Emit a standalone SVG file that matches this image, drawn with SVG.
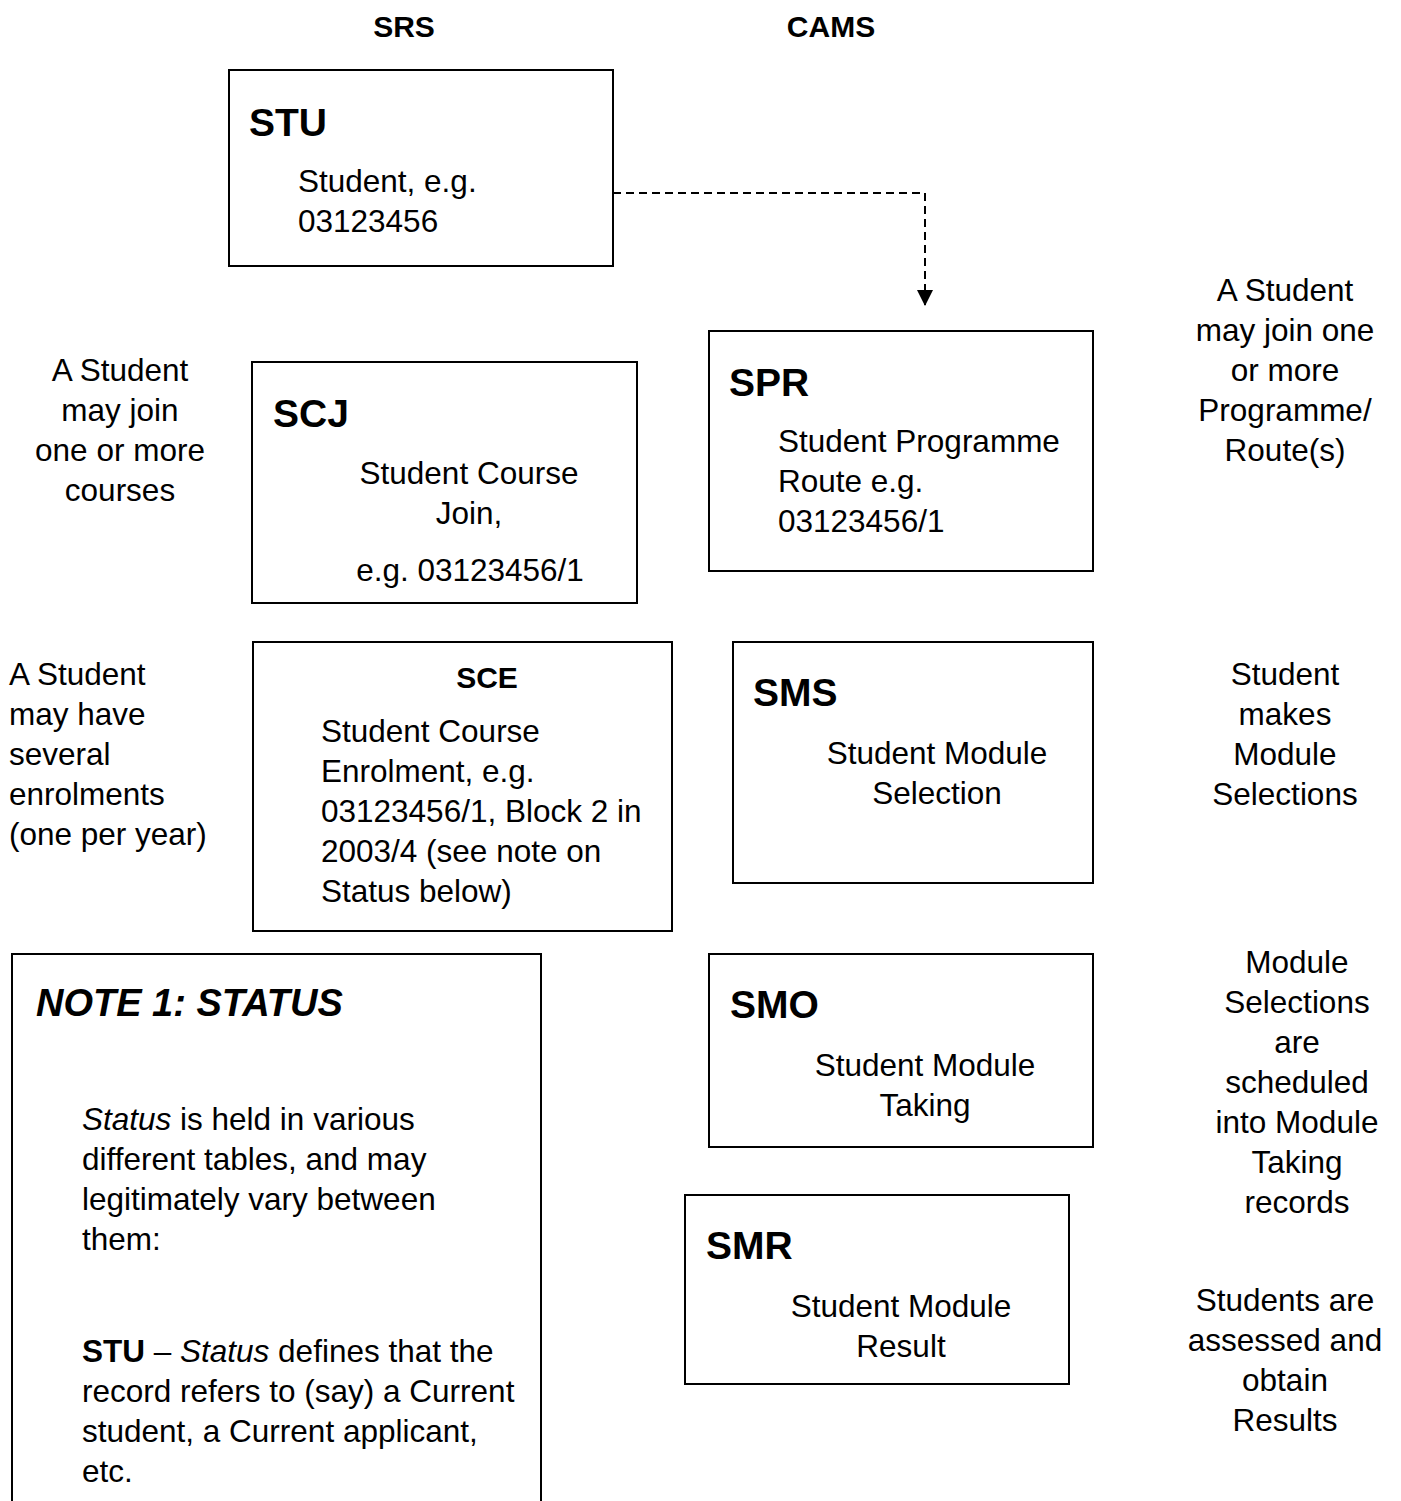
<svg xmlns="http://www.w3.org/2000/svg" width="1401" height="1501" viewBox="0 0 1401 1501">
<defs>
<style>
text{font-family:"Liberation Sans",Arial,sans-serif;fill:#000;}
.b{font-size:31.5px;}
.h{font-size:30px;font-weight:bold;}
.t{font-size:39px;font-weight:bold;}
.c{text-anchor:middle;}
.box{fill:#fff;stroke:#000;stroke-width:2;}
.conn{fill:none;stroke:#000;stroke-width:2;stroke-dasharray:8,5;}
</style>
<marker id="arr" viewBox="0 0 10 10" refX="10" refY="5" markerWidth="8" markerHeight="8" markerUnits="strokeWidth" orient="auto">
<path d="M0,0 L10,5 L0,10 Z" fill="#000"/>
</marker>
</defs>
<rect width="1401" height="1501" fill="#fff"/>
<g id="headers">
<text class="h c" x="404" y="37">SRS</text>
<text class="h c" x="831" y="37">CAMS</text>
</g>
<g id="connectors">
<path class="conn" d="M613,193 H925 V306" marker-end="url(#arr)"/>
</g>
<g id="STU">
<rect class="box" x="229" y="70" width="384" height="196"/>
<text class="t" x="249" y="136">STU</text>
<text class="b" x="298" y="192">Student, e.g.</text>
<text class="b" x="298" y="232">03123456</text>
</g>
<g id="SPR">
<rect class="box" x="709" y="331" width="384" height="240"/>
<text class="t" x="729" y="396">SPR</text>
<text class="b" x="778" y="452">Student Programme</text>
<text class="b" x="778" y="492">Route e.g.</text>
<text class="b" x="778" y="532">03123456/1</text>
</g>
<g id="SCJ">
<rect class="box" x="252" y="362" width="385" height="241"/>
<text class="t" x="273" y="427">SCJ</text>
<text class="b c" x="469" y="484">Student Course</text>
<text class="b c" x="469" y="524">Join,</text>
<text class="b c" x="470" y="581">e.g. 03123456/1</text>
</g>
<g id="SCE">
<rect class="box" x="253" y="642" width="419" height="289"/>
<text class="h c" x="487" y="688">SCE</text>
<text class="b" x="321" y="742">Student Course</text>
<text class="b" x="321" y="782">Enrolment, e.g.</text>
<text class="b" x="321" y="822">03123456/1, Block 2 in</text>
<text class="b" x="321" y="862">2003/4 (see note on</text>
<text class="b" x="321" y="902">Status below)</text>
</g>
<g id="SMS">
<rect class="box" x="733" y="642" width="360" height="241"/>
<text class="t" x="753" y="706">SMS</text>
<text class="b c" x="937" y="764">Student Module</text>
<text class="b c" x="937" y="804">Selection</text>
</g>
<g id="SMO">
<rect class="box" x="709" y="954" width="384" height="193"/>
<text class="t" x="730" y="1018">SMO</text>
<text class="b c" x="925" y="1076">Student Module</text>
<text class="b c" x="925" y="1116">Taking</text>
</g>
<g id="SMR">
<rect class="box" x="685" y="1195" width="384" height="189"/>
<text class="t" x="706" y="1259">SMR</text>
<text class="b c" x="901" y="1317">Student Module</text>
<text class="b c" x="901" y="1357">Result</text>
</g>
<g id="note">
<path class="box" d="M12,1510 V954 H541 V1510"/>
<text x="36" y="1016" style="font-size:38px;font-weight:bold;font-style:italic">NOTE 1: STATUS</text>
<text class="b" x="82" y="1130"><tspan font-style="italic">Status</tspan> is held in various</text>
<text class="b" x="82" y="1170">different tables, and may</text>
<text class="b" x="82" y="1210">legitimately vary between</text>
<text class="b" x="82" y="1250">them:</text>
<text class="b" x="82" y="1362"><tspan font-weight="bold">STU</tspan> – <tspan font-style="italic">Status</tspan> defines that the</text>
<text class="b" x="82" y="1402">record refers to (say) a Current</text>
<text class="b" x="82" y="1442">student, a Current applicant,</text>
<text class="b" x="82" y="1482">etc.</text>
</g>
<g id="annotations">
<text class="b c" x="120"><tspan x="120" y="381">A Student</tspan><tspan x="120" y="421">may join</tspan><tspan x="120" y="461">one or more</tspan><tspan x="120" y="501">courses</tspan></text>
<text class="b"><tspan x="9" y="685">A Student</tspan><tspan x="9" y="725">may have</tspan><tspan x="9" y="765">several</tspan><tspan x="9" y="805">enrolments</tspan><tspan x="9" y="845">(one per year)</tspan></text>
<text class="b c"><tspan x="1285" y="301">A Student</tspan><tspan x="1285" y="341">may join one</tspan><tspan x="1285" y="381">or more</tspan><tspan x="1285" y="421">Programme/</tspan><tspan x="1285" y="461">Route(s)</tspan></text>
<text class="b c"><tspan x="1285" y="685">Student</tspan><tspan x="1285" y="725">makes</tspan><tspan x="1285" y="765">Module</tspan><tspan x="1285" y="805">Selections</tspan></text>
<text class="b c"><tspan x="1297" y="973">Module</tspan><tspan x="1297" y="1013">Selections</tspan><tspan x="1297" y="1053">are</tspan><tspan x="1297" y="1093">scheduled</tspan><tspan x="1297" y="1133">into Module</tspan><tspan x="1297" y="1173">Taking</tspan><tspan x="1297" y="1213">records</tspan></text>
<text class="b c"><tspan x="1285" y="1311">Students are</tspan><tspan x="1285" y="1351">assessed and</tspan><tspan x="1285" y="1391">obtain</tspan><tspan x="1285" y="1431">Results</tspan></text>
</g>
</svg>
